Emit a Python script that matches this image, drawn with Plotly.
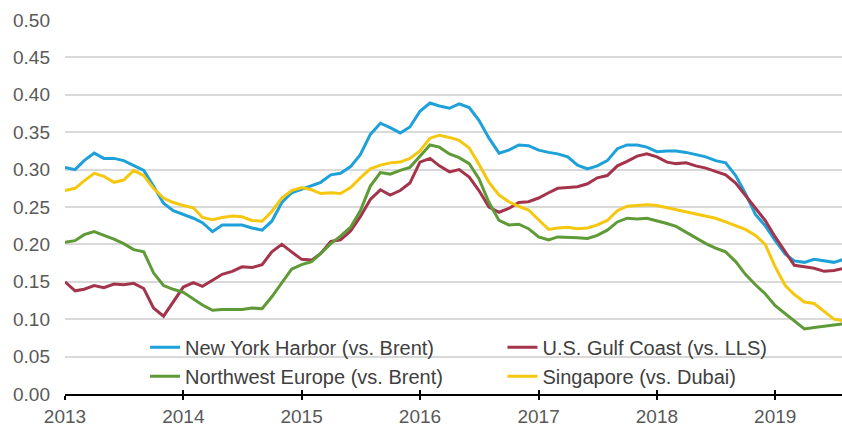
import plotly.graph_objects as go
import pandas as pd

dates = pd.date_range("2013-01-01", periods=80, freq="MS").strftime("%Y-%m-%d").tolist()

ny_harbor = [.303, .300, .312, .322, .315, .315, .312, .305, .299, .278, .255, .245,
             .240, .235, .229, .217, .226, .226, .226, .222, .219, .231, .256, .269,
             .274, .279, .283, .293, .295, .304, .320, .347, .362, .356, .349, .357,
             .378, .389, .385, .382, .388, .383, .366, .342, .322, .326, .333, .332,
             .326, .323, .321, .317, .306, .301, .305, .312, .328, .333, .333, .330,
             .324, .325, .325, .323, .320, .317, .312, .309, .292, .268, .240, .225,
             .205, .187, .178, .176, .180, .178, .176, .180]

gulf_coast = [.150, .138, .140, .145, .142, .147, .146, .148, .141, .115, .104, .124,
              .143, .149, .144, .152, .160, .164, .170, .169, .173, .190, .200, .190,
              .180, .179, .188, .204, .206, .218, .237, .260, .273, .266, .272, .282,
              .310, .315, .305, .297, .300, .290, .272, .250, .243, .248, .256, .257,
              .262, .269, .275, .276, .277, .281, .289, .292, .305, .311, .318, .321,
              .317, .310, .308, .309, .305, .302, .298, .293, .282, .265, .249, .232,
              .210, .190, .172, .170, .168, .164, .165, .168]

nw_europe = [.203, .205, .213, .217, .212, .207, .201, .193, .190, .162, .145, .140,
             .136, .127, .119, .112, .113, .113, .113, .115, .114, .130, .149, .167,
             .173, .177, .188, .201, .211, .223, .245, .278, .296, .294, .299, .303,
             .318, .333, .330, .321, .316, .308, .288, .256, .232, .226, .227, .221,
             .210, .206, .210, .210, .209, .208, .212, .219, .230, .235, .234, .235,
             .232, .228, .224, .216, .208, .201, .195, .190, .177, .160, .146, .134,
             .118, .107, .097, .087, .089, .091, .093, .094]

singapore = [.272, .275, .285, .295, .291, .283, .286, .299, .292, .275, .262, .256,
             .252, .249, .236, .233, .236, .238, .237, .232, .231, .244, .262, .272,
             .276, .273, .268, .269, .268, .276, .289, .301, .306, .309, .310, .315,
             .325, .342, .346, .343, .339, .329, .307, .283, .266, .257, .251, .246,
             .233, .220, .222, .223, .221, .222, .226, .232, .245, .251, .252, .253,
             .252, .249, .247, .244, .241, .238, .235, .230, .225, .220, .212, .200,
             .170, .145, .133, .123, .121, .110, .100, .098]

series_names = ["New York Harbor (vs. Brent)", "U.S. Gulf Coast (vs. LLS)",
                "Northwest Europe (vs. Brent)", "Singapore (vs. Dubai)"]
series_values = [ny_harbor, gulf_coast, nw_europe, singapore]
colors = ["#1ea0d9", "#a3344b", "#5e9a35", "#f6c70f"]
legend_ids = ["legend", "legend2", "legend", "legend2"]

y_ticks = [0.0, 0.05, 0.10, 0.15, 0.20, 0.25, 0.30, 0.35, 0.40, 0.45, 0.50]
x_ticks = ["2013-01-01", "2014-01-01", "2015-01-01", "2016-01-01",
           "2017-01-01", "2018-01-01", "2019-01-01"]
x_tick_labels = ["2013", "2014", "2015", "2016", "2017", "2018", "2019"]

fig = go.Figure()
for name, vals, col, lg in zip(series_names, series_values, colors, legend_ids):
    fig.add_trace(go.Scatter(x=dates, y=vals, mode="lines", name=name, legend=lg,
                             line=dict(color=col, width=3)))

x_range = ["2013-01-01", "2019-07-26"]
legend_style = dict(orientation="v", yanchor="top", xanchor="left",
                    bgcolor="rgba(0,0,0,0)", font=dict(size=20, color="#404040"),
                    traceorder="normal", tracegroupgap=0)

fig.update_layout(
    width=842, height=429,
    margin=dict(l=65, r=0, t=20, b=35),
    paper_bgcolor="white", plot_bgcolor="white",
    font=dict(family="Arial, Liberation Sans, sans-serif", size=19, color="#595959"),
    showlegend=True,
    legend=dict(x=0.103, y=0.177, **legend_style),
    legend2=dict(x=0.563, y=0.177, **legend_style),
    xaxis=dict(range=x_range, tickvals=x_ticks, ticktext=x_tick_labels,
               showgrid=False, zeroline=False, showline=True, linecolor="black",
               linewidth=2, ticks="outside", ticklen=4, tickwidth=2, tickcolor="black",
               tickfont=dict(size=19, color="#595959")),
    xaxis2=dict(range=x_range, tickvals=x_ticks, overlaying="x", anchor="y",
                side="bottom", showgrid=False, zeroline=False, showline=False,
                ticks="inside", ticklen=4, tickwidth=2, tickcolor="black",
                showticklabels=False),
    yaxis=dict(range=[0, 0.5], tickvals=y_ticks, tickformat=".2f",
               showgrid=True, gridcolor="#d9d9d9", gridwidth=1.5,
               zeroline=False, showline=False, ticks="", ticklabelstandoff=14,
               tickfont=dict(size=19, color="#595959")),
)
fig.add_trace(go.Scatter(x=[dates[0]], y=[None], xaxis="x2", showlegend=False,
                         hoverinfo="skip"))

fig.write_html("out.html", config={"displayModeBar": False},
               post_script="document.body.style.margin='0';")
